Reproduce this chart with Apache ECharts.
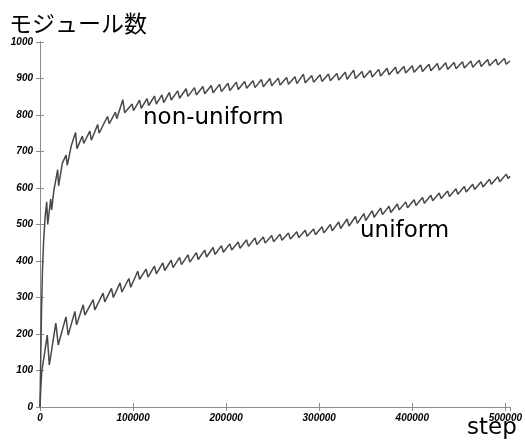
<!DOCTYPE html>
<html>
<head>
<meta charset="utf-8">
<script src="https://cdn.jsdelivr.net/npm/echarts@6/dist/echarts.min.js"></script>
<style>
  html, body { margin: 0; padding: 0; background: #fff; }
  #chart { width: 525px; height: 441px; }
</style>
</head>
<body>
<div id="chart"></div>
<script>
// Module count over simulation steps, two placement strategies.
const xTicks = [0, 100000, 200000, 300000, 400000, 500000];
const yTicks = [0, 100, 200, 300, 400, 500, 600, 700, 800, 900, 1000];

const nonUniformSteps = [
  0, 800, 1600, 2600, 3800, 5500, 7200, 8300, 11500, 12500, 15000, 19000, 20000, 24000, 28000, 29300,
  33500, 38200, 39700, 45500, 47000, 53500, 55200, 62000, 63500, 72500, 74500, 81000, 82500, 89000, 91000,
  99000, 100500, 107000, 108800, 115000, 116800, 123000, 125000, 131000, 133000, 139000, 141000,
  148000, 150000, 157000, 159000, 166000, 168000, 175000, 177000, 184000, 186000, 193000, 195000,
  202000, 204000, 211000, 213000, 220000, 222000, 229000, 231000, 238000, 240000, 247000, 249000,
  256000, 258000, 265000, 267000, 274000, 276000, 283000, 285000, 292000, 294000, 301000, 303000,
  310000, 312000, 319000, 321000, 328000, 330000, 337000, 339000, 346000, 348000, 355000, 357000,
  364000, 366000, 373000, 375000, 382000, 384000, 391000, 393000, 400000, 402000, 409000, 411000,
  418000, 420000, 427000, 429000, 436000, 438000, 445000, 447000, 454000, 456000, 463000, 465000,
  472000, 474000, 481000, 483000, 490000, 492000, 499000, 501000, 505000
];
const nonUniformModules = [
  0, 140, 260, 370, 450, 520, 562, 500, 570, 540, 595, 650, 606, 668, 690, 662,
  715, 752, 708, 742, 722, 756, 731, 774, 750, 796, 776, 808, 790, 842, 806,
  830, 812, 841, 818, 845, 826, 852, 830, 855, 834, 862, 841,
  866, 846, 872, 851, 875, 855, 878, 858, 881, 861, 884, 864,
  887, 867, 890, 870, 892, 873, 894, 875, 897, 877, 900, 880,
  901, 882, 903, 884, 905, 886, 912, 888, 908, 890, 910, 892,
  912, 894, 914, 896, 917, 898, 923, 900, 919, 902, 922, 904,
  925, 907, 928, 910, 931, 913, 933, 915, 935, 917, 937, 919,
  939, 921, 941, 923, 943, 925, 944, 927, 946, 929, 948, 931,
  950, 933, 952, 935, 953, 937, 955, 939, 948
];

const uniformSteps = [
  0, 1000, 2000, 4500, 7800, 10000, 17000, 19600, 27900, 30300, 37500, 39300, 46400, 48200,
  57100, 58900, 67800, 69600, 76800, 78800, 86000, 88000, 95500, 97500, 105000, 107000,
  114000, 116000, 123000, 125000, 132000, 134000, 141000, 143000, 150000, 152000, 159000, 161000,
  168000, 170000, 177000, 179000, 186000, 188000, 195000, 197000, 204000, 206000, 213000, 215000,
  222000, 224000, 231000, 233000, 240000, 242000, 249000, 251000, 258000, 260000, 267000, 269000,
  276000, 278000, 285000, 287000, 294000, 296000, 303000, 305000, 312000, 314000, 321000, 323000,
  330000, 332000, 339000, 341000, 348000, 350000, 357000, 359000, 366000, 368000, 375000, 377000,
  384000, 386000, 393000, 395000, 402000, 404000, 411000, 413000, 420000, 422000, 429000, 431000,
  438000, 440000, 447000, 449000, 456000, 458000, 465000, 467000, 474000, 476000, 483000, 485000,
  492000, 494000, 501000, 503000, 505000
];
const uniformModules = [
  0, 60, 100, 140, 197, 115, 230, 170, 247, 197, 262, 225, 280, 252,
  294, 266, 312, 288, 325, 300, 340, 315, 352, 328, 372, 350,
  378, 356, 386, 365, 395, 374, 402, 382, 410, 390, 417, 397,
  423, 404, 430, 411, 437, 418, 442, 424, 447, 430, 452, 435,
  458, 440, 463, 445, 466, 449, 470, 453, 473, 457, 477, 460,
  480, 464, 484, 468, 488, 472, 494, 477, 500, 483, 507, 489,
  515, 496, 522, 503, 530, 511, 538, 520, 545, 527, 550, 533,
  556, 540, 562, 546, 568, 552, 574, 558, 580, 565, 586, 571,
  592, 577, 598, 583, 604, 589, 610, 596, 617, 603, 624, 610,
  631, 617, 638, 626, 632
];

const pairs = (xs, ys) => xs.map((x, i) => [x, ys[i]]);

const tickFont = {
  fontFamily: 'Liberation Sans',
  fontWeight: 'bold',
  fontStyle: 'italic',
  fontSize: 10,
  color: '#000'
};
const boxLine = { lineStyle: { color: '#8c8c8c', width: 1 } };
const innerTick = { show: true, inside: true, length: 4, lineStyle: { color: '#8c8c8c' } };

const xMax = 505000;
const chart = echarts.init(document.getElementById('chart'), null, { renderer: 'canvas' });
chart.setOption({
  animation: false,
  backgroundColor: '#fff',
  title: {
    text: 'モジュール数',
    left: 4,
    top: 7,
    textStyle: { fontFamily: 'Noto Sans CJK JP', fontWeight: 'normal', fontSize: 23, color: '#000' }
  },
  grid: { left: 40, right: 14, top: 42, bottom: 34, containLabel: false },
  xAxis: [
    {
      type: 'value', min: 0, max: xMax, interval: 100000,
      axisLine: boxLine, axisTick: innerTick, splitLine: { show: false },
      axisLabel: Object.assign({ margin: 6, showMaxLabel: false,
        formatter: v => xTicks.includes(v) ? String(v) : '' }, tickFont)
    },
    {
      type: 'value', position: 'top', min: 0, max: xMax, interval: 100000,
      axisLine: boxLine, axisTick: innerTick, splitLine: { show: false },
      axisLabel: { show: false }
    }
  ],
  yAxis: [
    {
      type: 'value', min: 0, max: 1000, interval: 100,
      axisLine: Object.assign({ show: true }, boxLine), axisTick: innerTick, splitLine: { show: false },
      axisLabel: Object.assign({ margin: 7,
        formatter: v => yTicks.includes(v) ? String(v) : '' }, tickFont)
    },
    {
      type: 'value', position: 'right', min: 0, max: 1000, interval: 100,
      axisLine: Object.assign({ show: true }, boxLine), axisTick: innerTick, splitLine: { show: false },
      axisLabel: { show: false }
    }
  ],
  graphic: [
    { type: 'text', left: 143, top: 107, style: { text: 'non-uniform', font: '23px "DejaVu Sans"', fill: '#000' } },
    { type: 'text', left: 360, top: 220, style: { text: 'uniform', font: '23px "DejaVu Sans"', fill: '#000' } },
    { type: 'text', left: 467, top: 417, style: { text: 'step', font: '23px "DejaVu Sans"', fill: '#000' } }
  ],
  series: [
    {
      name: 'non-uniform', type: 'line', showSymbol: false, silent: true,
      lineStyle: { color: '#484848', width: 1.5 },
      data: pairs(nonUniformSteps, nonUniformModules)
    },
    {
      name: 'uniform', type: 'line', showSymbol: false, silent: true,
      lineStyle: { color: '#484848', width: 1.5 },
      data: pairs(uniformSteps, uniformModules)
    }
  ]
});
</script>
</body>
</html>
